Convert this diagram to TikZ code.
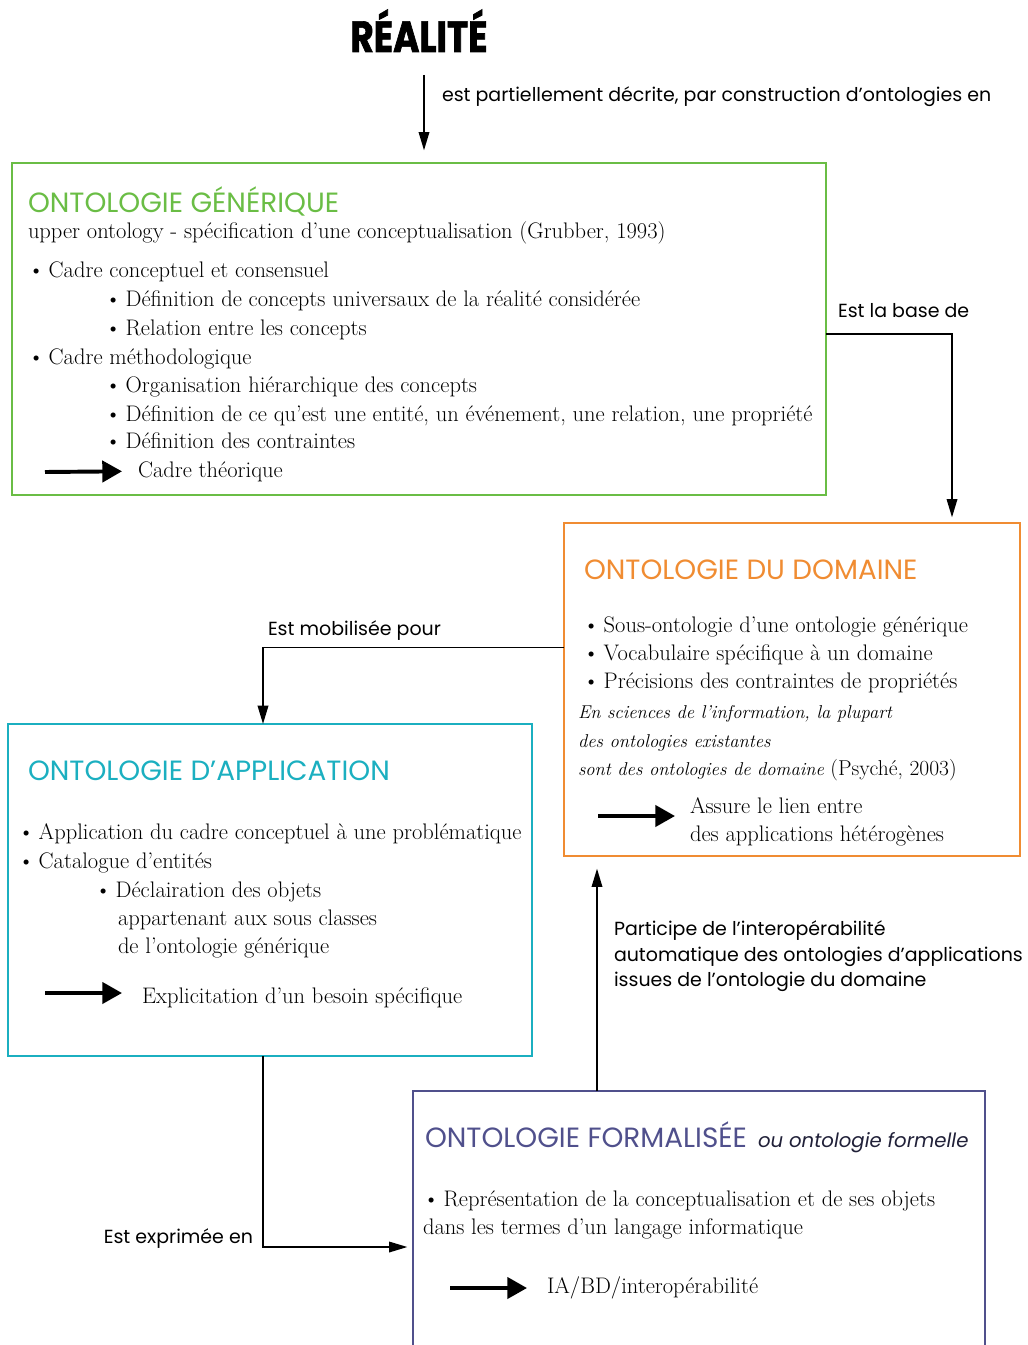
\documentclass[tikz,border=0pt]{standalone}
\usepackage{fontspec}
\setsansfont{Poppins}
\newfontfamily\realfont{Poppins}[FakeStretch=0.82, FakeBold=1.5]
\usetikzlibrary{arrows.meta,calc,positioning}

\definecolor{gencol}{RGB}{106,189,69}
\definecolor{domcol}{RGB}{240,140,50}
\definecolor{appcol}{RGB}{27,175,192}
\definecolor{formcol}{RGB}{80,80,140}

\newlength\pxu
\setlength\pxu{0.025cm}
\newcommand\dotitem{\textbullet\hspace{0.2em}}

\begin{document}
\begin{tikzpicture}[
    x=0.025cm, y=-0.025cm,
    every node/.style={inner sep=0pt, outer sep=0pt},
    box/.style={rectangle, line width=1.4pt, anchor=north west},
    head/.style={font=\sffamily\fontsize{19.8}{22}\selectfont, anchor=base west},
    body/.style={font=\fontsize{16}{20}\selectfont, anchor=base west},
    quote/.style={font=\itshape\fontsize{13.2}{20}\selectfont, anchor=base west},
    label/.style={font=\sffamily\fontsize{13.5}{16}\selectfont, anchor=base west},
    arrow/.style={-{Triangle[length=13pt,width=7.5pt]}, line width=1.2pt},
    bigarrow/.style={-{Triangle[length=14pt,width=15pt]}, line width=2.8pt}
]
\clip (0,0) rectangle (1027,1345);

% -------------------------
% Title
% -------------------------
    \node[font=\realfont\bfseries\fontsize{31}{31}\selectfont, anchor=base] (real) at (419,52) {RÉALITÉ};
    \coordinate (realfoot) at (424,75);

% -------------------------
% Boxes
% -------------------------
    \node[box, draw=gencol, minimum width=814\pxu, minimum height=332\pxu] (gen) at (12,163) {};
    \node[box, draw=domcol, minimum width=456\pxu, minimum height=333\pxu] (dom) at (564,523) {};
    \node[box, draw=appcol, minimum width=524\pxu, minimum height=332\pxu] (app) at (8,724) {};
    \node[box, draw=formcol, minimum width=572\pxu, minimum height=312\pxu] (form) at (413,1091) {};

% -------------------------
% Ontologie generique
% -------------------------
    \node[head, text=gencol] (gtitle) at (28,213) {ONTOLOGIE GÉNÉRIQUE};
    \node[body] (gsub) at (28,239) {upper ontology - spécification d’une conceptualisation (Grubber, 1993)};
    \node[body] (g1) at (28,278) {\dotitem Cadre conceptuel et consensuel};
    \node[body] (g2) at (105,307) {\dotitem Définition de concepts universaux de la réalité considérée};
    \node[body] (g3) at (105,335) {\dotitem Relation entre les concepts};
    \node[body] (g4) at (28,364) {\dotitem Cadre méthodologique};
    \node[body] (g5) at (105,392) {\dotitem Organisation hiérarchique des concepts};
    \node[body] (g6) at (105,421) {\dotitem Définition de ce qu’est une entité, un événement, une relation, une propriété};
    \node[body] (g7) at (105,448) {\dotitem Définition des contraintes};
    \node[body] (gtxt) at (138,477) {Cadre théorique};
    \coordinate (gt) at (45,472);
    \draw[bigarrow] (gt) -- ($(gtxt.west)+(-16,0)$);

% -------------------------
% Ontologie du domaine
% -------------------------
    \node[head, text=domcol] (dtitle) at (584,579) {ONTOLOGIE DU DOMAINE};
    \node[body] (d1) at (583,632) {\dotitem Sous-ontologie d’une ontologie générique};
    \node[body] (d2) at (583,660) {\dotitem Vocabulaire spécifique à un domaine};
    \node[body] (d3) at (583,688) {\dotitem Précisions des contraintes de propriétés};
    \node[quote] (d4) at (578,718) {En sciences de l’information, la plupart};
    \node[quote] (d5) at (578,747) {des ontologies existantes};
    \node[quote] (d6) at (578,775) {sont des ontologies de domaine {\upshape\fontsize{15.3}{20}\selectfont (Psyché, 2003)}};
    \node[body] (dtxt) at (690,813) {Assure le lien entre};
    \node[body] (dtxt2) at (690,841) {des applications hétérogènes};
    \coordinate (dt) at (598,816);
    \draw[bigarrow] (dt) -- ($(dtxt.west |- dt)+(-15,0)$);

% -------------------------
% Ontologie d'application
% -------------------------
    \node[head, text=appcol] (atitle) at (28,780) {ONTOLOGIE D’APPLICATION};
    \node[body] (a1) at (18,839) {\dotitem Application du cadre conceptuel à une problématique};
    \node[body] (a2) at (18,868) {\dotitem Catalogue d’entités};
    \node[body] (a3) at (95,897) {\dotitem Déclairation des objets};
    \node[body] (a4) at (118,925) {appartenant aux sous classes};
    \node[body] (a5) at (118,953) {de l’ontologie générique};
    \node[body] (atxt) at (142,1003) {Explicitation d’un besoin spécifique};
    \coordinate (at) at (45,993);
    \draw[bigarrow] (at) -- ($(atxt.west |- at)+(-20,0)$);

% -------------------------
% Ontologie formalisee
% -------------------------
    \node[head, text=formcol] (ftitle) at (425,1147) {ONTOLOGIE FORMALISÉE};
    \node[head, font=\sffamily\itshape\fontsize{14}{16}\selectfont, text=formcol!40!black] (fsub) at (758,1147) {ou ontologie formelle};
    \node[body] (f1) at (423,1206) {\dotitem Représentation de la conceptualisation et de ses objets};
    \node[body] (f2) at (423,1234) {dans les termes d’un langage informatique};
    \node[body] (ftxt) at (547,1293) {IA/BD/interopérabilité};
    \coordinate (ft) at (450,1288);
    \draw[bigarrow] (ft) -- ($(ftxt.west |- ft)+(-20,0)$);

% -------------------------
% Connectors & labels
% -------------------------
    \draw[arrow, shorten >=9pt] (realfoot) -- (realfoot |- gen.north);
    \node[label] (lreal) at (442,102) {est partiellement décrite, par construction d’ontologies en};

    \draw[arrow, shorten >=4pt] ($(gen.east)+(0,5)$) -| ($(dom.north)+(160,0)$);
    \node[label] (lbase) at (838,318) {Est la base de};

    \draw[arrow] ($(dom.west)+(0,-42)$) -| ($(app.north)+(-7,0)$);
    \node[label] (lmob) at (268,635) {Est mobilisée pour};

    \draw[arrow, shorten >=9pt] ($(form.north)+(-102,0)$) -- ($(dom.south)+(-195,0)$);
    \node[label] (lpart1) at (614,935) {Participe de l’interopérabilité};
    \node[label] (lpart2) at (614,961) {automatique des ontologies d’applications};
    \node[label] (lpart3) at (614,986) {issues de l’ontologie du domaine};

    \draw[arrow, shorten >=4pt] ($(app.south)+(-7,0)$) |- (form.west);
    \node[label, anchor=base east] (lexp) at (253,1243) {Est exprimée en};
\end{tikzpicture}
\end{document}
